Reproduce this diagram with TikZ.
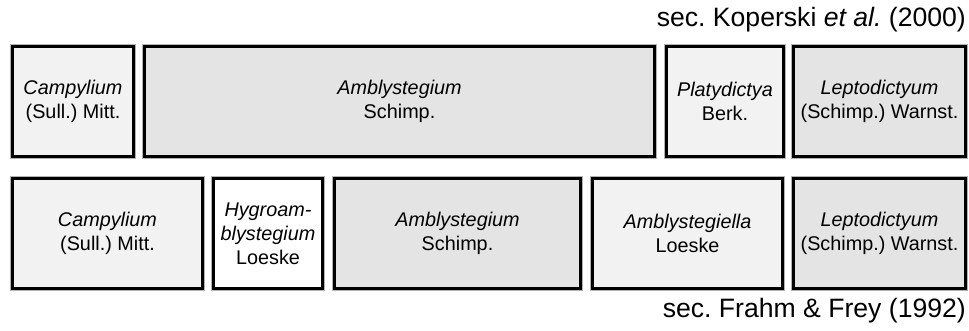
\documentclass[tikz,border=0pt]{standalone}
\usepackage{fontspec}
\setmainfont{Liberation Sans}
\frenchspacing
\definecolor{lightfill}{HTML}{F2F2F2}
\definecolor{darkfill}{HTML}{E4E4E4}
\begin{document}
\begin{tikzpicture}[x=1pt,y=-1pt,
  taxbox/.style={draw=black,line width=3pt},
  halo/.style={draw=gray!60,line width=4.2pt},
  taxtext/.style={font=\fontsize{19.8}{24}\selectfont,align=center},
  seclabel/.style={font=\fontsize{26.6}{30}\selectfont,anchor=base east,inner sep=0pt}]
\useasboundingbox[fill=white] (0,0) rectangle (969,331);
\newcommand{\taxon}[7]{% name, x1, y1, x2, y2, fill, text
  \draw[halo] (#2,#3) rectangle (#4,#5);
  \draw[taxbox,fill=#6] (#2,#3) rectangle (#4,#5);
  \node[taxtext] (#1) at ({(#2+#4)/2},{(#3+#5)/2}) {#7};}
% top row: outer edges 45..158
\taxon{tcamp}{12.5}{46.5}{133.5}{156.5}{lightfill}{\textit{Campylium}\\(Sull.) Mitt.}
\taxon{tambl}{144.5}{46.5}{654.5}{156.5}{darkfill}{\textit{Amblystegium}\\Schimp.}
\taxon{tplat}{666.5}{46.5}{783.5}{156.5}{lightfill}{\textit{Platydictya}\\Berk.}
\taxon{tlept}{793.5}{46.5}{965.5}{156.5}{darkfill}{\textit{Leptodictyum}\\(Schimp.) Warnst.}
% bottom row: outer edges 177..290
\taxon{bcamp}{12.5}{178.5}{202.5}{288.5}{lightfill}{\textit{Campylium}\\(Sull.) Mitt.}
\taxon{bhygr}{213.5}{178.5}{322.5}{288.5}{white}{\textit{Hygroam-}\\\textit{blystegium}\\Loeske}
\taxon{bambl}{334.5}{178.5}{580.5}{288.5}{darkfill}{\textit{Amblystegium}\\Schimp.}
\taxon{bambg}{592.5}{178.5}{782.5}{288.5}{lightfill}{\textit{Amblystegiella}\\Loeske}
\taxon{blept}{793.5}{178.5}{965.5}{288.5}{darkfill}{\textit{Leptodictyum}\\(Schimp.) Warnst.}
\node[seclabel] (koperski) at (966,27) {sec. Koperski \textit{et al.} (2000)};
\node[seclabel] (frahm) at (966,317) {sec. Frahm \& Frey (1992)};
\end{tikzpicture}
\end{document}
